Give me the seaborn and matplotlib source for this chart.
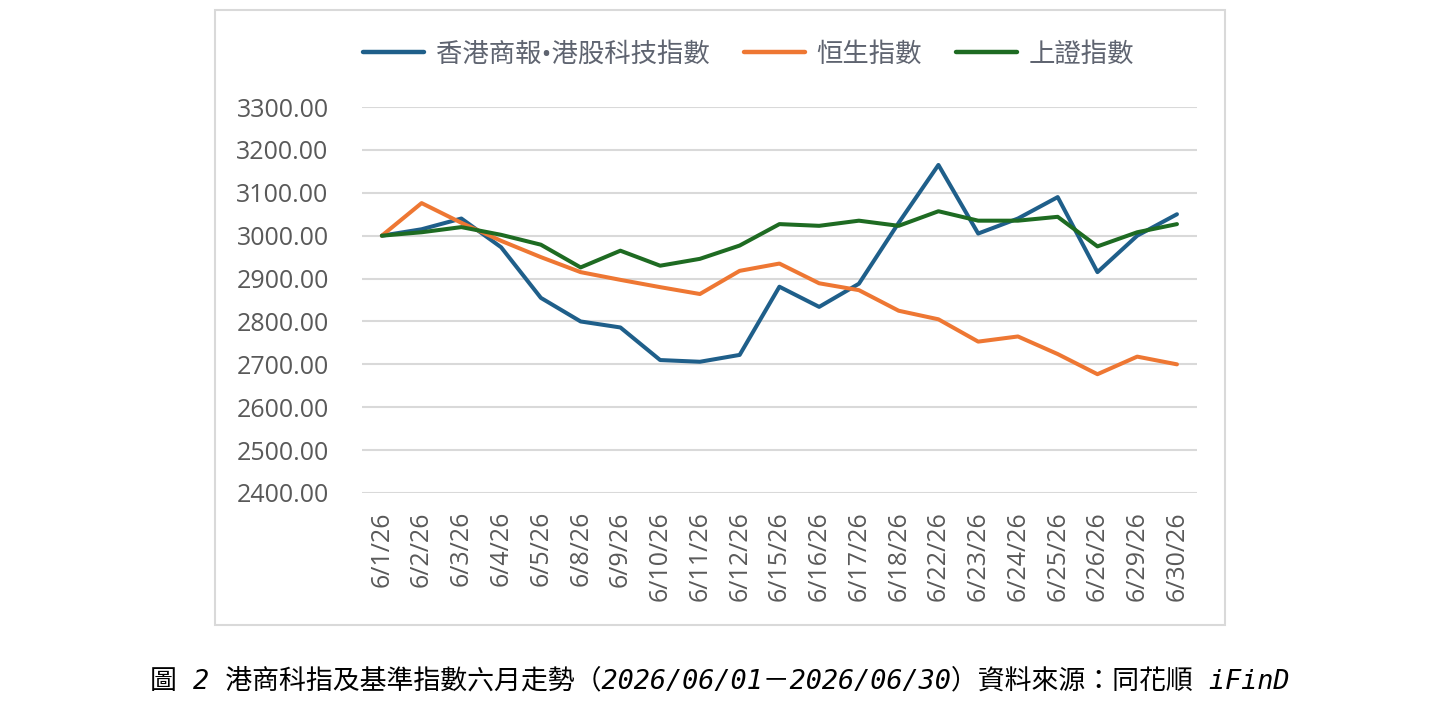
import matplotlib
matplotlib.use("Agg")
import matplotlib.pyplot as plt
import seaborn as sns
import pandas as pd
from matplotlib.patches import Rectangle

dates = ["6/1/26", "6/2/26", "6/3/26", "6/4/26", "6/5/26", "6/8/26", "6/9/26",
         "6/10/26", "6/11/26", "6/12/26", "6/15/26", "6/16/26", "6/17/26", "6/18/26",
         "6/22/26", "6/23/26", "6/24/26", "6/25/26", "6/26/26", "6/29/26", "6/30/26"]

series_names = ["香港商報•港股科技指數", "恒生指數", "上證指數"]
hk_tech = [3000, 3015, 3040, 2973, 2855, 2800, 2786, 2710, 2706, 2722, 2881,
           2834, 2888, 3030, 3165, 3005, 3040, 3090, 2915, 3000, 3050]
hsi = [3000, 3076, 3030, 2988, 2950, 2915, 2897, 2880, 2864, 2918, 2935,
       2889, 2873, 2825, 2805, 2753, 2765, 2724, 2677, 2718, 2700]
sse = [3000, 3008, 3020, 3002, 2979, 2926, 2965, 2930, 2946, 2977, 3027,
       3023, 3035, 3023, 3057, 3035, 3035, 3044, 2975, 3008, 3027]
yticks = [2400, 2500, 2600, 2700, 2800, 2900, 3000, 3100, 3200, 3300]
caption = "圖 2 港商科指及基準指數六月走勢（2026/06/01－2026/06/30）資料來源：同花順 iFinD"

colors = ["#1f5f8a", "#ee7733", "#1e6b22"]

df = pd.concat([
    pd.DataFrame({"date": dates, "value": vals, "series": name})
    for name, vals in zip(series_names, [hk_tech, hsi, sse])
], ignore_index=True)

sns.set_theme(style="white")
plt.rcParams["font.family"] = ["Open Sans", "Noto Sans CJK TC", "DejaVu Sans"]

fig = plt.figure(figsize=(14.33, 7.06), dpi=100)
ax = fig.add_axes([0.2526, 0.3017, 0.5826, 0.5467])

sns.lineplot(data=df, x="date", y="value", hue="series", palette=colors,
             linewidth=2.9, ax=ax, sort=False, legend=True)

ax.set_ylim(2400, 3300)
ax.set_yticks(yticks)
ax.set_yticklabels([f"{v:.2f}" for v in yticks])
ax.set_xlim(-0.5, len(dates) - 0.5)
ax.grid(axis="y", color="#d9d9d9", linewidth=1.5)
ax.grid(axis="x", visible=False)
ax.set_axisbelow(True)
for s in ax.spines.values():
    s.set_visible(False)
ax.set_xlabel("")
ax.set_ylabel("")
ax.tick_params(axis="y", length=0, pad=24, labelsize=18, labelcolor="#595959")
ax.tick_params(axis="x", length=0, pad=13, labelsize=18, labelcolor="#595959")
for lbl in ax.get_xticklabels():
    lbl.set_rotation(90)
    lbl.set_va("top")
    lbl.set_ha("center")

handles, labels = ax.get_legend_handles_labels()
ax.legend_.remove()
leg = fig.legend(handles, labels, loc="center", bbox_to_anchor=(0.5225, 0.922),
                 ncol=3, frameon=False, handlelength=2.3, handletextpad=0.45,
                 columnspacing=1.3,
                 prop={"family": ["Open Sans", "Noto Sans CJK TC"], "size": 19})
for t in leg.get_texts():
    t.set_color("#5f6470")
for h in leg.get_lines():
    h.set_linewidth(3.2)

fig.patches.append(Rectangle((215 / 1433, 1 - 625 / 706), 1010 / 1433, 615 / 706,
                             transform=fig.transFigure, fill=False,
                             edgecolor="#d9d9d9", linewidth=1.5))

fig.text(150 / 1433, 1 - 681 / 706, caption, ha="left", va="center",
         fontsize=19.4, color="black", style="italic",
         family=["DejaVu Sans Mono", "Noto Sans CJK TC"])

fig.savefig("out.png", dpi=100, facecolor="white")
